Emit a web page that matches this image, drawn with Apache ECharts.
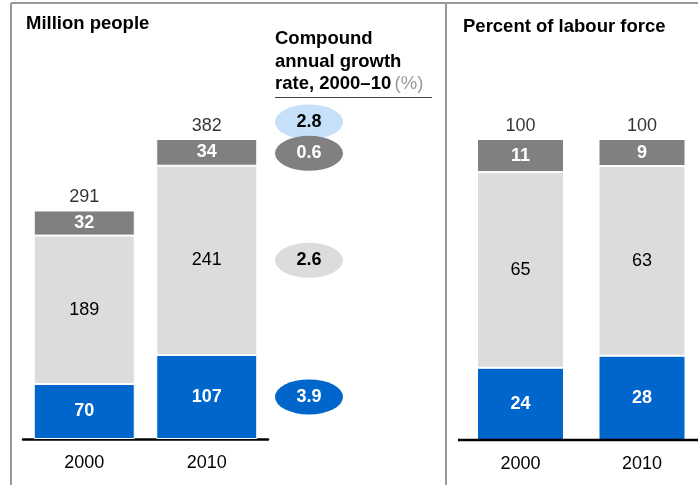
<!DOCTYPE html>
<html>
<head>
<meta charset="utf-8">
<script src="https://cdn.jsdelivr.net/npm/echarts@6/dist/echarts.min.js"></script>
<style>
  html, body { margin: 0; padding: 0; background: #fff; }
  #chart { width: 698px; height: 485px; }
</style>
</head>
<body>
<div id="chart"></div>
<script>
// data
const years = ['2000', '2010']
const peopleBlue = [70, 107]
const peopleLight = [189, 241]
const peopleDark = [32, 34]
const peopleTotal = [291, 382]
const shareBlue = [24, 28]
const shareLight = [65, 63]
const shareDark = [11, 9]
const shareTotal = [100, 100]
// growth rates 2000-10: total, dark, light, blue
const cagr = [2.8, 0.6, 2.6, 3.9]

const BLUE = '#0066cc'
const LIGHT = '#dcdcdc'
const DARK = '#808080'
const FONT = 'Liberation Sans, Arial, sans-serif'
const FS = 18

const myChart = echarts.init(document.getElementById('chart'))

function seg(name, data, color, xi, width, labelColor, bold) {
  return {
    name: name,
    type: 'bar',
    stack: 'g' + xi,
    xAxisIndex: xi,
    yAxisIndex: xi,
    barWidth: width,
    clip: false,
    data: data,
    itemStyle: { color: color, borderColor: '#fff', borderWidth: 1 },
    label: {
      show: true,
      position: 'inside',
      color: labelColor,
      fontFamily: FONT,
      fontSize: FS,
      fontWeight: bold ? 'bold' : 'normal'
    },
    emphasis: { disabled: true },
    silent: true
  }
}

function totals(data, xi) {
  return {
    type: 'scatter',
    xAxisIndex: xi,
    yAxisIndex: xi,
    symbolSize: 0,
    clip: false,
    data: data,
    label: {
      show: true,
      position: 'top',
      distance: 4,
      color: '#000',
      fontFamily: FONT,
      fontSize: FS,
      formatter: p => p.value
    },
    silent: true
  }
}

// ellipses sit beside the 2010 bar: above the total, then mid-segment
const b = peopleBlue[1], l = peopleLight[1], d = peopleDark[1], t = peopleTotal[1]
const ellipseFill = ['#c6e0fa', DARK, LIGHT, BLUE]
const ellipseText = ['#000', '#fff', '#000', '#fff']
const ellipseY = [t, b + l + d / 2, b + l / 2, b / 2]
const ellipseShift = [[0, -17], [0, 1], [0, 0], [0, 0]]
const ellipseData = cagr.map((v, i) => ({
  value: [0.5, ellipseY[i]],
  rate: v,
  symbolOffset: ellipseShift[i],
  itemStyle: { color: ellipseFill[i], opacity: 1 },
  label: { color: ellipseText[i] }
}))

const catAxis = (gi, gap, line) => ({
  type: 'category',
  gridIndex: gi,
  data: years,
  boundaryGap: gap,
  axisTick: { show: false },
  axisLine: { show: line, lineStyle: { color: '#000', width: 2.5 } },
  axisLabel: { color: '#000', fontFamily: FONT, fontSize: FS, margin: 15 }
})

myChart.setOption({
  animation: false,
  grid: [
    { left: 23, width: 245, top: 139, bottom: 46 },
    { left: 520.5, width: 121.5, top: 139, bottom: 45 },
    { left: 275, width: 68, top: 139, bottom: 46 }
  ],
  xAxis: [
    catAxis(0, true, true),
    catAxis(1, false, false),
    { type: 'value', gridIndex: 2, min: 0, max: 1, show: false }
  ],
  yAxis: [
    { type: 'value', gridIndex: 0, min: 0, max: 382, show: false },
    { type: 'value', gridIndex: 1, min: 0, max: 100, show: false },
    { type: 'value', gridIndex: 2, min: 0, max: 382, show: false }
  ],
  series: [
    seg('blue', peopleBlue, BLUE, 0, 101, '#fff', true),
    seg('light', peopleLight, LIGHT, 0, 101, '#000', false),
    seg('dark', peopleDark, DARK, 0, 101, '#fff', true),
    totals(peopleTotal, 0),
    seg('blue', shareBlue, BLUE, 1, 87, '#fff', true),
    seg('light', shareLight, LIGHT, 1, 87, '#000', false),
    seg('dark', shareDark, DARK, 1, 87, '#fff', true),
    totals(shareTotal, 1),
    {
      type: 'scatter',
      xAxisIndex: 2,
      yAxisIndex: 2,
      symbol: 'circle',
      symbolSize: [68, 35],
      clip: false,
      data: ellipseData,
      label: {
        show: true,
        position: 'inside',
        fontFamily: FONT,
        fontSize: FS,
        fontWeight: 'bold',
        formatter: p => p.data.rate.toFixed(1)
      },
      silent: true
    }
  ],
  graphic: [
    // frame
    { type: 'line', shape: { x1: 11, y1: 3, x2: 698, y2: 3 }, style: { stroke: '#999', lineWidth: 2 } },
    { type: 'line', shape: { x1: 11, y1: 3, x2: 11, y2: 485 }, style: { stroke: '#999', lineWidth: 2 } },
    { type: 'line', shape: { x1: 446, y1: 3, x2: 446, y2: 485 }, style: { stroke: '#999', lineWidth: 2 } },
    // baseline of the right panel
    { type: 'line', z: 10, shape: { x1: 458, y1: 440, x2: 698, y2: 440 }, style: { stroke: '#000', lineWidth: 2.5 } },
    // titles
    { type: 'text', left: 26, top: 14, style: { text: 'Million people', font: 'bold 18.5px ' + FONT, fill: '#000' } },
    { type: 'text', left: 463, top: 17, style: { text: 'Percent of labour force', font: 'bold 18.5px ' + FONT, fill: '#000' } },
    { type: 'text', left: 275, top: 27, style: { text: 'Compound\nannual growth', font: 'bold 18.5px ' + FONT, fill: '#000', lineHeight: 23.5 } },
    {
      type: 'text', left: 275, top: 74,
      style: {
        text: '{b|rate, 2000–10} {g|(%)}',
        rich: {
          b: { font: 'bold 18.5px ' + FONT, fill: '#000' },
          g: { font: '18.5px ' + FONT, fill: '#999' }
        }
      }
    },
    { type: 'line', shape: { x1: 275, y1: 97.5, x2: 432, y2: 97.5 }, style: { stroke: '#444', lineWidth: 1 } }
  ]
})
</script>
</body>
</html>
